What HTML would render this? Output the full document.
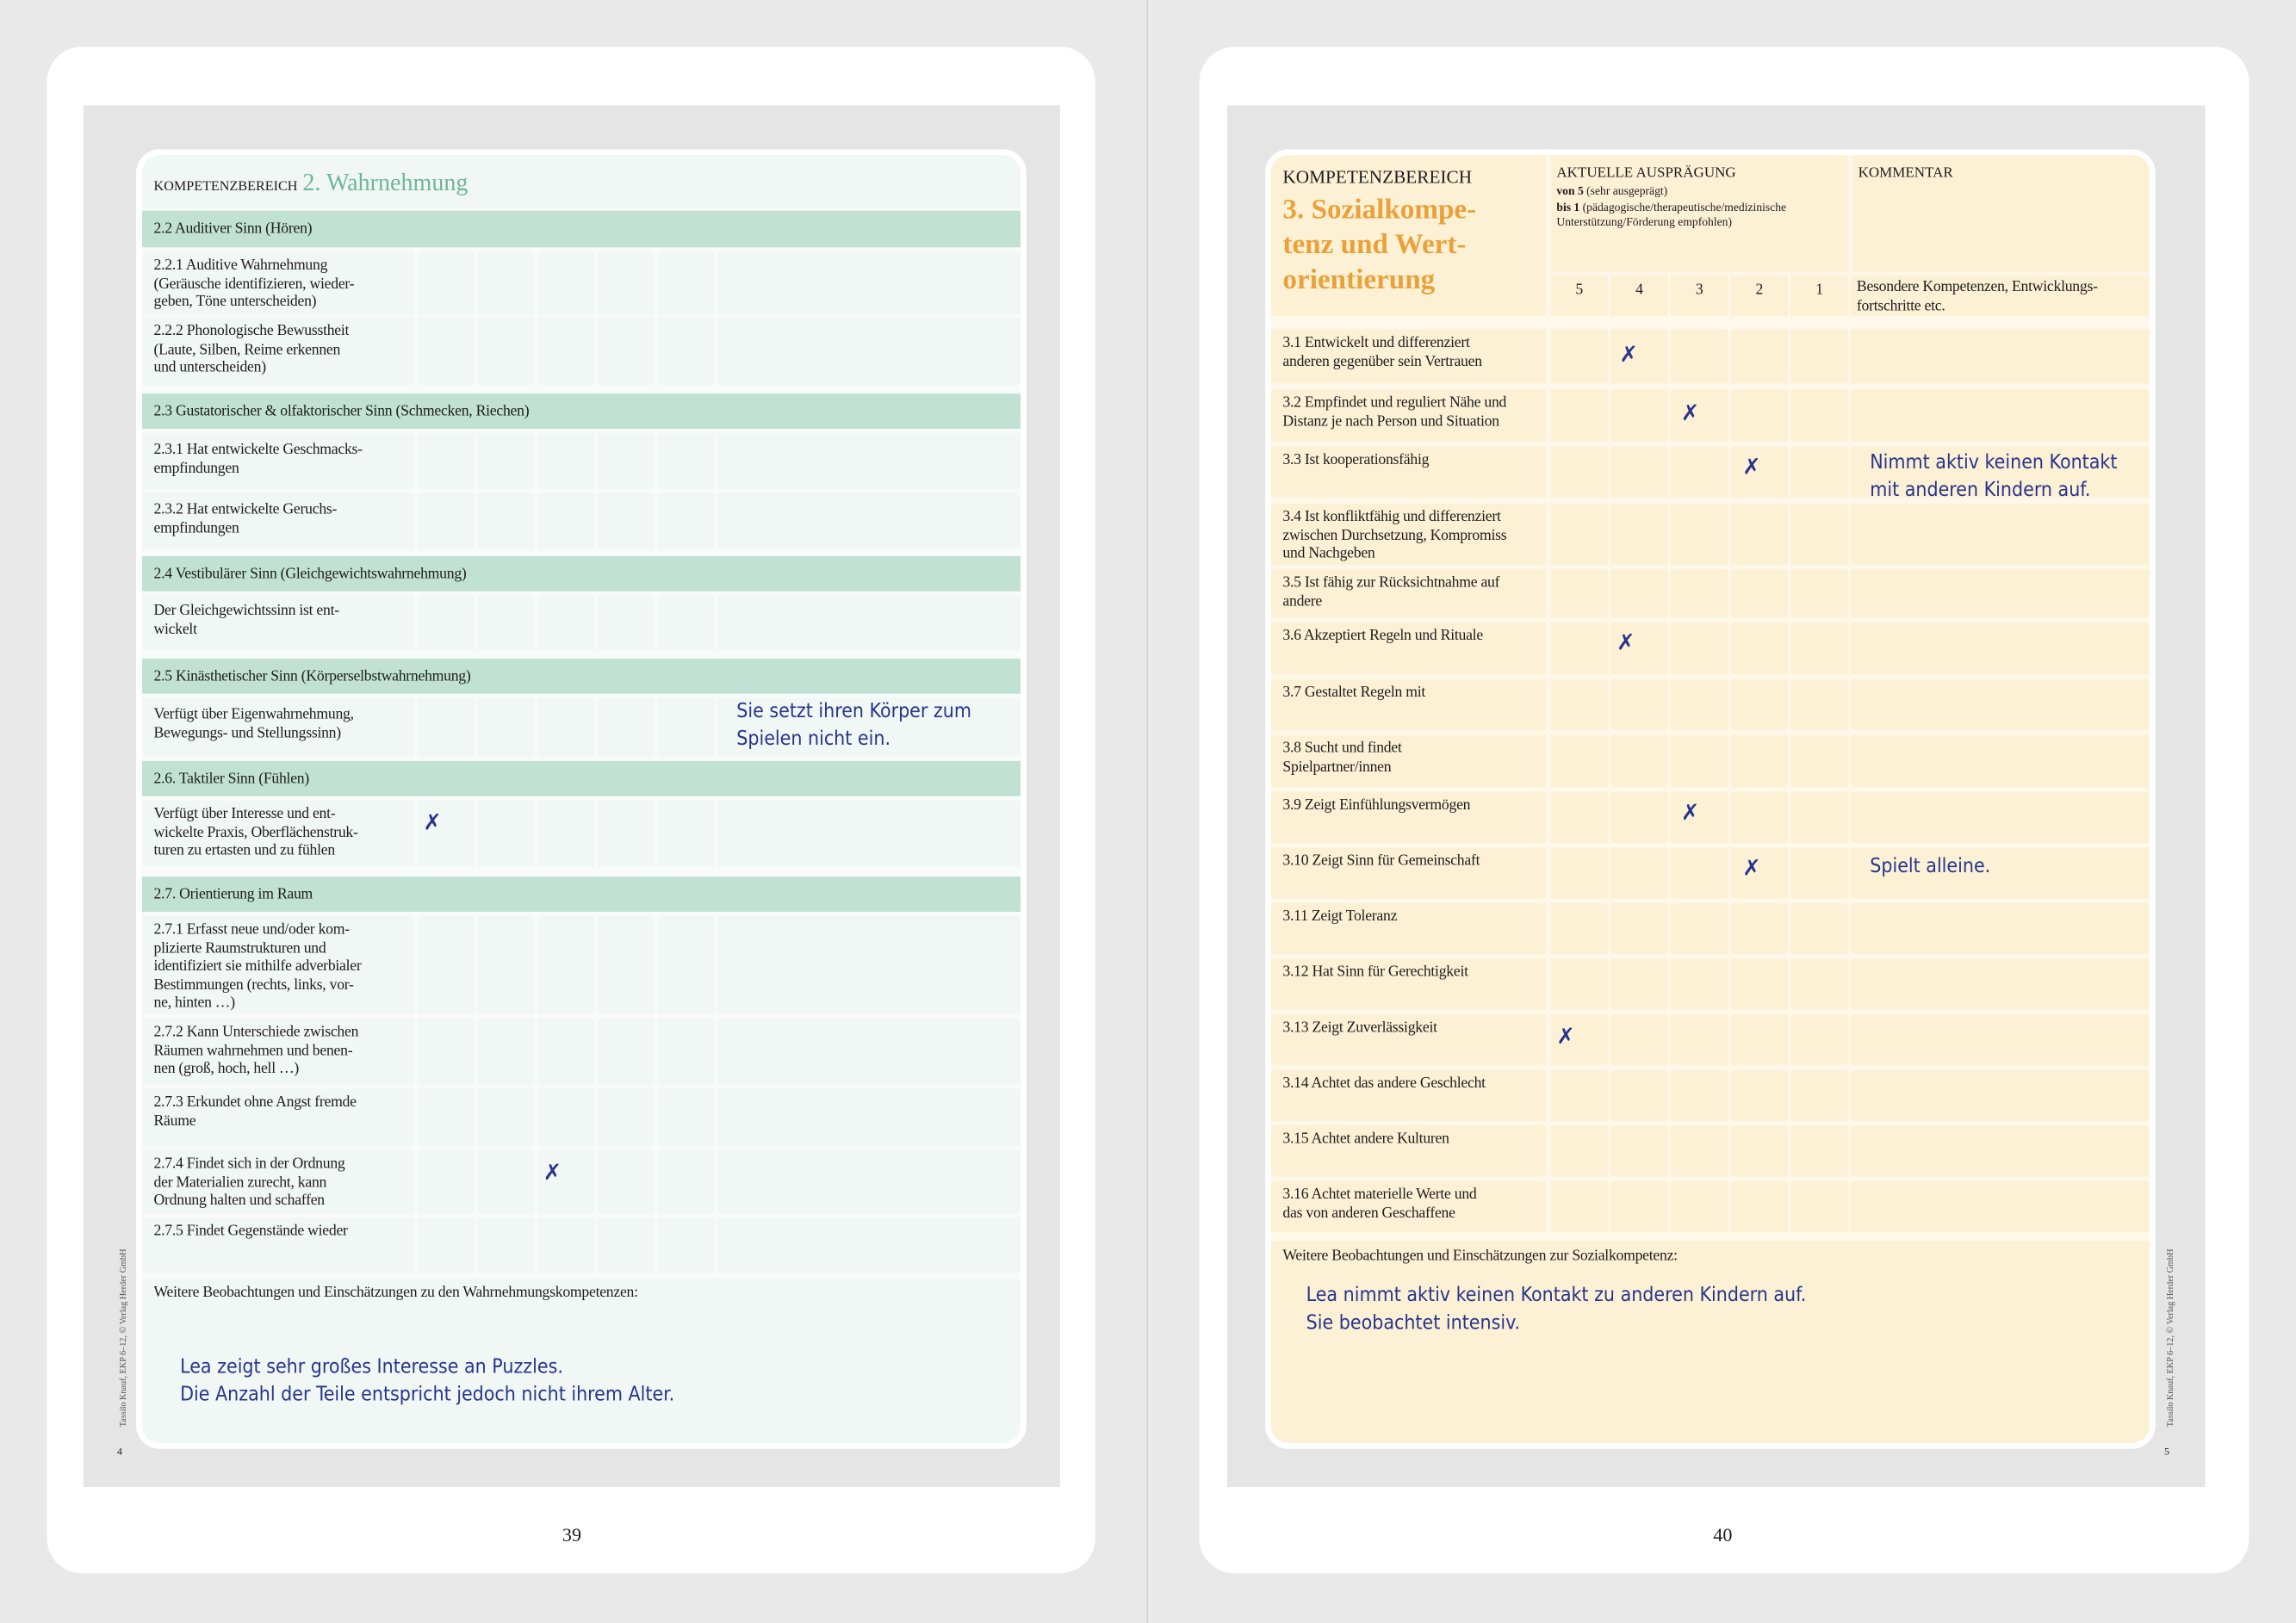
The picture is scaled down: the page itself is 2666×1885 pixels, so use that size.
<!DOCTYPE html>
<html><head><meta charset="utf-8"><style>
html,body{margin:0;padding:0;width:2666px;height:1885px;overflow:hidden;background:#e9e9e9}
#w{position:absolute;left:0;top:0;width:1568px;height:1109px;transform:scale(1.70026,1.69973);transform-origin:0 0;font-family:"Liberation Serif",serif;color:#1d1d1d}
.a{position:absolute}
.page{position:absolute;background:#fff;border-radius:24px}
.gray{position:absolute;background:#e5e5e5}
.card{position:absolute;border:4px solid #fff;border-radius:16px;overflow:hidden}
.r{position:absolute;display:flex;font-size:10.4px;line-height:12.6px;white-space:nowrap;letter-spacing:-0.15px}
.r .l{flex:none;padding:4px 8px;box-sizing:border-box}
.r i{flex:none;display:block;font-style:normal}
.r .c{flex:1}
.L .r{left:0;width:600px}
.L .r .l{width:186px;margin-right:2px;background:#f1f7f4}
.L .r i{width:39px;margin-right:2px;background:#f1f7f4}
.L .r .c{background:#f1f7f4}
.L .h{left:0;width:600px;background:#c0e1d3;font-size:10.4px;letter-spacing:-0.15px;padding:0 8px;box-sizing:border-box;display:flex;align-items:center}
.R .r{left:0;width:600px}
.R .r .l{width:188px;margin-right:3px;background:#fdf1d5}
.R .r i{width:39px;margin-right:2px;background:#fdf1d5}
.R .r .c{background:#fdf1d5}
.hw{position:absolute;font-family:"DejaVu Sans Condensed","DejaVu Sans",sans-serif;color:#26358c;font-size:13.5px;line-height:19px;white-space:nowrap}
.x{position:absolute;font-family:"DejaVu Sans",sans-serif;color:#26358c;font-size:15px}
</style></head><body><div id="w">
<div class="a" style="left:783px;top:0;width:1px;height:1109px;background:#d0d0d0"></div>
<div class="page" style="left:32px;top:32px;width:716px;height:1043px"></div>
<div class="page" style="left:819px;top:32px;width:717px;height:1043px"></div>
<div class="gray" style="left:57px;top:72px;width:667px;height:944px"></div>
<div class="gray" style="left:838px;top:72px;width:668px;height:944px"></div>
<div class="a" style="left:384px;top:1041px;font-size:13px">39</div>
<div class="a" style="left:1170px;top:1041px;font-size:13px">40</div>
<div class="a" style="left:80px;top:988px;font-size:7px">4</div>
<div class="a" style="left:1478px;top:988px;font-size:7px">5</div>
<div class="a" style="left:82px;top:975px;font-size:6px;color:#555;transform:rotate(-90deg);transform-origin:0 0;white-space:nowrap">Tassilo Knauf, EKP 6–12, © Verlag Herder GmbH</div>
<div class="a" style="left:1480px;top:975px;font-size:6px;color:#555;transform:rotate(-90deg);transform-origin:0 0;white-space:nowrap">Tassilo Knauf, EKP 6–12, © Verlag Herder GmbH</div>

<!-- LEFT CARD -->
<div class="card L" style="left:93px;top:102px;width:600px;height:880px;background:#f8fbfa">
<div class="a" style="left:0;top:0;width:600px;height:36px;background:#f1f7f4"></div>
<div class="a" style="left:8px;top:9px;font-size:14px;white-space:nowrap"><span style="font-size:9.5px">KOMPETENZBEREICH</span> <span style="color:#6db79b;font-size:16.5px">2. Wahrnehmung</span></div>
<div class="a h" style="top:38px;height:25px">2.2 Auditiver Sinn (Hören)</div>
<div class="r" style="top:66px;height:43px"><div class="l">2.2.1 Auditive Wahrnehmung<br>(Geräusche identifizieren, wieder-<br>geben, Töne unterscheiden)</div><i></i><i></i><i></i><i></i><i></i><div class="c"></div></div>
<div class="r" style="top:111px;height:46px"><div class="l">2.2.2 Phonologische Bewusstheit<br>(Laute, Silben, Reime erkennen<br>und unterscheiden)</div><i></i><i></i><i></i><i></i><i></i><div class="c"></div></div>
<div class="a h" style="top:163px;height:24px">2.3 Gustatorischer &amp; olfaktorischer Sinn (Schmecken, Riechen)</div>
<div class="r" style="top:190px;height:38px"><div class="l" style="padding-top:6px">2.3.1 Hat entwickelte Geschmacks-<br>empfindungen</div><i></i><i></i><i></i><i></i><i></i><div class="c"></div></div>
<div class="r" style="top:231px;height:38px"><div class="l" style="padding-top:6px">2.3.2 Hat entwickelte Geruchs-<br>empfindungen</div><i></i><i></i><i></i><i></i><i></i><div class="c"></div></div>
<div class="a h" style="top:274px;height:24px">2.4 Vestibulärer Sinn (Gleichgewichtswahrnehmung)</div>
<div class="r" style="top:301px;height:37px"><div class="l" style="padding-top:5px">Der Gleichgewichtssinn ist ent-<br>wickelt</div><i></i><i></i><i></i><i></i><i></i><div class="c"></div></div>
<div class="a h" style="top:344px;height:24px">2.5 Kinästhetischer Sinn (Körperselbstwahrnehmung)</div>
<div class="r" style="top:371px;height:40px"><div class="l" style="padding-top:6px">Verfügt über Eigenwahrnehmung,<br>Bewegungs- und Stellungssinn)</div><i></i><i></i><i></i><i></i><i></i><div class="c"></div></div>
<div class="a h" style="top:414px;height:24px">2.6. Taktiler Sinn (Fühlen)</div>
<div class="r" style="top:441px;height:45px"><div class="l">Verfügt über Interesse und ent-<br>wickelte Praxis, Oberflächenstruk-<br>turen zu ertasten und zu fühlen</div><i></i><i></i><i></i><i></i><i></i><div class="c"></div></div>
<div class="a h" style="top:493px;height:24px">2.7. Orientierung im Raum</div>
<div class="r" style="top:520px;height:67px"><div class="l">2.7.1 Erfasst neue und/oder kom-<br>plizierte Raumstrukturen und<br>identifiziert sie mithilfe adverbialer<br>Bestimmungen (rechts, links, vor-<br>ne, hinten …)</div><i></i><i></i><i></i><i></i><i></i><div class="c"></div></div>
<div class="r" style="top:590px;height:45px"><div class="l">2.7.2 Kann Unterschiede zwischen<br>Räumen wahrnehmen und benen-<br>nen (groß, hoch, hell …)</div><i></i><i></i><i></i><i></i><i></i><div class="c"></div></div>
<div class="r" style="top:638px;height:39px"><div class="l">2.7.3 Erkundet ohne Angst fremde<br>Räume</div><i></i><i></i><i></i><i></i><i></i><div class="c"></div></div>
<div class="r" style="top:680px;height:43px"><div class="l">2.7.4 Findet sich in der Ordnung<br>der Materialien zurecht, kann<br>Ordnung halten und schaffen</div><i></i><i></i><i></i><i></i><i></i><div class="c"></div></div>
<div class="r" style="top:726px;height:37px"><div class="l">2.7.5 Findet Gegenstände wieder</div><i></i><i></i><i></i><i></i><i></i><div class="c"></div></div>
<div class="a" style="left:0;top:768px;width:600px;height:112px;background:#f1f7f4"></div>
<div class="a" style="left:8px;top:772px;font-size:10.4px;letter-spacing:-0.15px;white-space:nowrap">Weitere Beobachtungen und Einschätzungen zu den Wahrnehmungskompetenzen:</div>
</div>
<div class="hw" style="left:503px;top:477px">Sie setzt ihren Körper zum<br>Spielen nicht ein.</div>
<div class="hw" style="left:123px;top:925px">Lea zeigt sehr großes Interesse an Puzzles.<br>Die Anzahl der Teile entspricht jedoch nicht ihrem Alter.</div>
<div class="x" style="left:289px;top:553px">✗</div>
<div class="x" style="left:371px;top:792px">✗</div>

<!-- RIGHT CARD -->
<div class="card R" style="left:864px;top:102px;width:600px;height:880px;background:#fef8ea">
<div class="a" style="left:0;top:0;width:188px;height:110px;background:#fdf1d5"></div>
<div class="a" style="left:191px;top:0;width:203px;height:80px;background:#fdf1d5"></div>
<div class="a" style="left:397px;top:0;width:203px;height:80px;background:#fdf1d5"></div>
<div class="a" style="left:8px;top:8px;font-size:12.5px">KOMPETENZBEREICH</div>
<div class="a" style="left:8px;top:26px;font-size:19.5px;line-height:24px;color:#eaa13a;font-weight:bold;white-space:nowrap">3. Sozialkompe-<br>tenz und Wert-<br>orientierung</div>
<div class="a" style="left:195px;top:7px;font-size:10px">AKTUELLE AUSPRÄGUNG</div>
<div class="a" style="left:195px;top:20px;font-size:8px;line-height:10.5px;white-space:nowrap"><b>von 5</b> (sehr ausgeprägt)<br><b>bis 1</b> (pädagogische/therapeutische/medizinische<br>Unterstützung/Förderung empfohlen)</div>
<div class="a" style="left:401px;top:7px;font-size:10px">KOMMENTAR</div>
<div class="r" style="top:82px;height:28px;left:191px;width:409px"><i style="text-align:center;padding-top:5px">5</i><i style="text-align:center;padding-top:5px">4</i><i style="text-align:center;padding-top:5px">3</i><i style="text-align:center;padding-top:5px">2</i><i style="text-align:center;padding-top:5px">1</i><div class="c" style="padding:3px 4px">Besondere Kompetenzen, Entwicklungs-<br>fortschritte etc.</div></div>
<div class="r" style="top:119px;height:37px"><div class="l">3.1 Entwickelt und differenziert<br>anderen gegenüber sein Vertrauen</div><i></i><i></i><i></i><i></i><i></i><div class="c"></div></div>
<div class="r" style="top:160px;height:36px"><div class="l">3.2 Empfindet und reguliert Nähe und<br>Distanz je nach Person und Situation</div><i></i><i></i><i></i><i></i><i></i><div class="c"></div></div>
<div class="r" style="top:199px;height:35px"><div class="l">3.3 Ist kooperationsfähig</div><i></i><i></i><i></i><i></i><i></i><div class="c"></div></div>
<div class="r" style="top:238px;height:42px"><div class="l">3.4 Ist konfliktfähig und differenziert<br>zwischen Durchsetzung, Kompromiss<br>und Nachgeben</div><i></i><i></i><i></i><i></i><i></i><div class="c"></div></div>
<div class="r" style="top:283px;height:33px"><div class="l">3.5 Ist fähig zur Rücksichtnahme auf<br>andere</div><i></i><i></i><i></i><i></i><i></i><div class="c"></div></div>
<div class="r" style="top:319px;height:36px"><div class="l">3.6 Akzeptiert Regeln und Rituale</div><i></i><i></i><i></i><i></i><i></i><div class="c"></div></div>
<div class="r" style="top:358px;height:35px"><div class="l">3.7 Gestaltet Regeln mit</div><i></i><i></i><i></i><i></i><i></i><div class="c"></div></div>
<div class="r" style="top:396px;height:36px"><div class="l">3.8 Sucht und findet<br>Spielpartner/innen</div><i></i><i></i><i></i><i></i><i></i><div class="c"></div></div>
<div class="r" style="top:435px;height:35px"><div class="l">3.9 Zeigt Einfühlungsvermögen</div><i></i><i></i><i></i><i></i><i></i><div class="c"></div></div>
<div class="r" style="top:473px;height:35px"><div class="l">3.10 Zeigt Sinn für Gemeinschaft</div><i></i><i></i><i></i><i></i><i></i><div class="c"></div></div>
<div class="r" style="top:511px;height:35px"><div class="l">3.11 Zeigt Toleranz</div><i></i><i></i><i></i><i></i><i></i><div class="c"></div></div>
<div class="r" style="top:549px;height:35px"><div class="l">3.12 Hat Sinn für Gerechtigkeit</div><i></i><i></i><i></i><i></i><i></i><div class="c"></div></div>
<div class="r" style="top:587px;height:35px"><div class="l">3.13 Zeigt Zuverlässigkeit</div><i></i><i></i><i></i><i></i><i></i><div class="c"></div></div>
<div class="r" style="top:625px;height:35px"><div class="l">3.14 Achtet das andere Geschlecht</div><i></i><i></i><i></i><i></i><i></i><div class="c"></div></div>
<div class="r" style="top:663px;height:35px"><div class="l">3.15 Achtet andere Kulturen</div><i></i><i></i><i></i><i></i><i></i><div class="c"></div></div>
<div class="r" style="top:701px;height:35px"><div class="l">3.16 Achtet materielle Werte und<br>das von anderen Geschaffene</div><i></i><i></i><i></i><i></i><i></i><div class="c"></div></div>
<div class="a" style="left:0;top:742px;width:600px;height:138px;background:#fdf1d5"></div>
<div class="a" style="left:8px;top:747px;font-size:10.4px;letter-spacing:-0.15px;white-space:nowrap">Weitere Beobachtungen und Einschätzungen zur Sozialkompetenz:</div>
</div>
<div class="hw" style="left:1277px;top:307px">Nimmt aktiv keinen Kontakt<br>mit anderen Kindern auf.</div>
<div class="hw" style="left:1277px;top:583px">Spielt alleine.</div>
<div class="hw" style="left:892px;top:876px">Lea nimmt aktiv keinen Kontakt zu anderen Kindern auf.<br>Sie beobachtet intensiv.</div>
<div class="x" style="left:1106px;top:233px">✗</div>
<div class="x" style="left:1148px;top:273px">✗</div>
<div class="x" style="left:1190px;top:310px">✗</div>
<div class="x" style="left:1104px;top:430px">✗</div>
<div class="x" style="left:1148px;top:546px">✗</div>
<div class="x" style="left:1190px;top:584px">✗</div>
<div class="x" style="left:1063px;top:699px">✗</div>
</div></body></html>
